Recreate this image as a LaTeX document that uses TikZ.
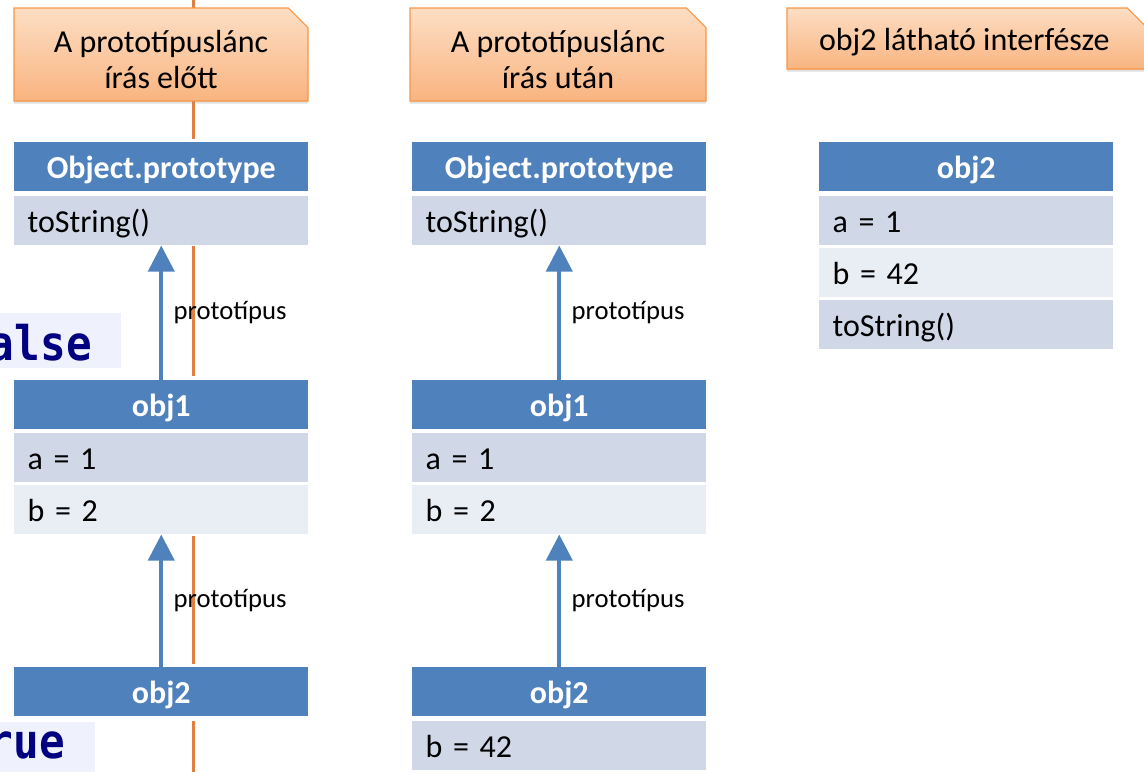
\documentclass[tikz,border=0pt]{standalone}
\usepackage{fontspec}
\setmainfont{Carlito}
\newfontfamily\codefont{DejaVu Sans Mono}
\usetikzlibrary{arrows.meta,shapes.misc,shadows}
\definecolor{hblue}{RGB}{79,129,189}
\definecolor{rdark}{RGB}{208,216,232}
\definecolor{rlight}{RGB}{233,237,244}
\definecolor{cotop}{RGB}{253,222,196}
\definecolor{cobot}{RGB}{249,180,128}
\definecolor{coline}{RGB}{247,150,70}
\definecolor{oline}{RGB}{222,128,68}
\definecolor{lav}{RGB}{239,241,253}
\definecolor{navy}{RGB}{0,0,128}
\tikzset{
  hdr/.style={fill=hblue, text=white, font=\fontsize{24}{28}\selectfont\bfseries,
    minimum width=220.5pt, minimum height=36.75pt, inner sep=0pt, anchor=north west,
    text height=20pt, text depth=2.5pt},
  rowbase/.style={font=\fontsize{24}{28}\selectfont, text width=200.5pt, inner xsep=10pt,
    inner ysep=0pt, minimum height=36.75pt, align=left, anchor=north west,
    text height=20pt, text depth=2.5pt},
  rowd/.style={rowbase, fill=rdark},
  rowl/.style={rowbase, fill=rlight},
  callout/.style={chamfered rectangle, chamfered rectangle corners=north east,
    chamfered rectangle xsep=9.5pt, chamfered rectangle ysep=9.5pt,
    draw=coline, line width=0.8pt, top color=cotop, bottom color=cobot,
    drop shadow={shadow xshift=0pt, shadow yshift=-2pt, opacity=0.25},
    inner sep=0pt, font=\fontsize{24}{27}\selectfont},
  ctext/.style={font=\fontsize{24}{27}\selectfont, align=center, inner sep=0pt},
  parr/.style={draw=hblue, line width=3pt, -{Triangle[length=19.5pt,width=19.5pt]}},
  plab/.style={font=\fontsize{20}{24}\selectfont, anchor=west, inner sep=0pt, xshift=7.8pt},
  oline/.style={draw=oline, line width=2.25pt},
  codetxt/.style={font=\codefont\bfseries\fontsize{32}{36}\selectfont, text=navy, inner sep=0pt, anchor=base east},
  codebg/.style={fill=lav, inner sep=0pt, anchor=north west}
}
\begin{document}
\begin{tikzpicture}[x=0.75pt,y=-0.75pt]
\useasboundingbox (0,0) rectangle (1144,772);
\begin{scope}
\clip (0,0) rectangle (1144,772);
% orange time line
\coordinate (ltop) at (193,0);
\coordinate (lbot) at (193,772);
\draw[oline] (ltop) -- (lbot);

% white backgrounds hiding the line behind the tables
\fill[white] (14,139) rectangle (308,246);
\fill[white] (14,376) rectangle (308,536);
\fill[white] (14,664) rectangle (308,721);

% callouts
\node[callout, minimum width=220.5pt, minimum height=69.75pt] (call1) at (161,54.5) {\phantom{A}};
\node[ctext] (call1t) at ([yshift=-3.4pt]call1.center) {A prototípuslánc\\írás előtt};
\node[callout, minimum width=222pt, minimum height=69.75pt] (call2) at (558,54.5) {\phantom{A}};
\node[ctext] (call2t) at ([yshift=-3.4pt]call2.center) {A prototípuslánc\\írás után};
\node[callout, minimum width=270pt, minimum height=45.75pt] (call3) at (967,38.5) {\phantom{A}};
\node[ctext] (call3t) at ([xshift=-2pt,yshift=-2.5pt]call3.center) {obj2 látható interfésze};

% column 1
\node[hdr] (c1op) at (14,142) {Object.prototype};
\node[rowd] (c1ts) at (14,196) {toString()};
\node[hdr] (c1o1) at (14,380) {obj1};
\node[rowd] (c1a) at (14,433) {a = 1};
\node[rowl] (c1b) at (14,485) {b = 2};
\node[hdr] (c1o2) at (14,667) {obj2};
\draw[parr] (c1o1.north) -- (c1ts.south) node[plab, midway] (c1l1) {prototípus};
\draw[parr] (c1o2.north) -- (c1b.south) node[plab, midway] (c1l2) {prototípus};

% column 2
\node[hdr] (c2op) at (412,142) {Object.prototype};
\node[rowd] (c2ts) at (412,196) {toString()};
\node[hdr] (c2o1) at (412,380) {obj1};
\node[rowd] (c2a) at (412,433) {a = 1};
\node[rowl] (c2b) at (412,485) {b = 2};
\node[hdr] (c2o2) at (412,667) {obj2};
\node[rowd] (c2b2) at (412,721) {b = 42};
\draw[parr] (c2o1.north) -- (c2ts.south) node[plab, midway] (c2l1) {prototípus};
\draw[parr] (c2o2.north) -- (c2b.south) node[plab, midway] (c2l2) {prototípus};

% column 3
\node[hdr] (c3o2) at (819,142) {obj2};
\node[rowd] (c3a) at (819,196) {a = 1};
\node[rowl] (c3b) at (819,248) {b = 42};
\node[rowd] (c3ts) at (819,300) {toString()};

% code fragments
\node[codebg, minimum width=90.75pt, minimum height=41.25pt] (fbg) at (0,313) {};
\node[codetxt] (ftxt) at (92,360) {\scalebox{1}[1.12]{false}};
\node[codebg, minimum width=71.25pt, minimum height=37.5pt] (tbg) at (0,722) {};
\node[codetxt] (ttxt) at (65,758) {\scalebox{1}[1.12]{true}};
\end{scope}
\end{tikzpicture}
\end{document}
